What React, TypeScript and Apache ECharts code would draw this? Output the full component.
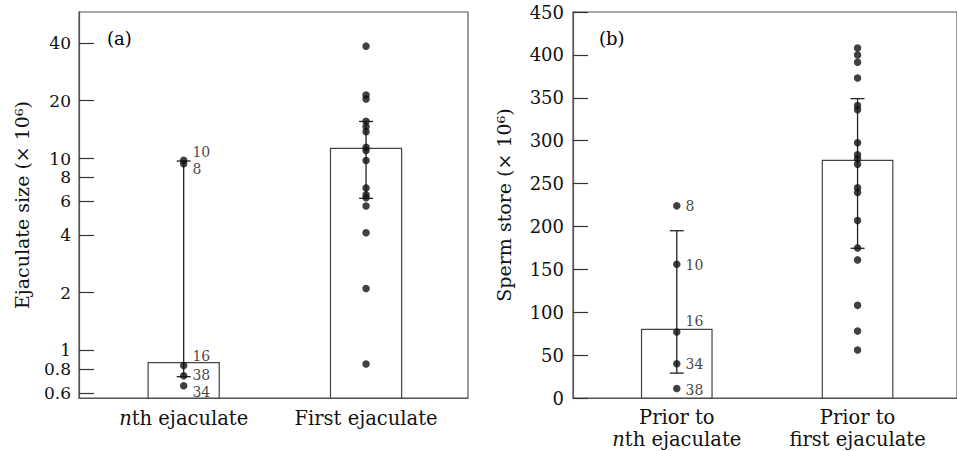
import React, { useEffect, useRef } from "react";
import * as echarts from "echarts";

// ---------- data ----------
const leftCategories = ["{i|n}{t|th ejaculate}", "{t|First ejaculate}"];
const rightCategories = ["{t|Prior to}\n{i|n}{t|th ejaculate}", "{t|Prior to}\n{t|first ejaculate}"];

// Panel (a): ejaculate size (x 10^6), log scale
const leftTicks = [0.6, 0.8, 1, 2, 4, 6, 8, 10, 20, 40];
const leftMeans = [0.863, 11.3];
const leftErrLow = [0.73, 6.2];
const leftErrHigh = [9.7, 15.6];
const leftNthIds = ["10", "8", "16", "38", "34"];
const leftNthValues = [9.8, 9.4, 0.835, 0.738, 0.654];
const leftFirstValues = [38.5, 21.4, 20.4, 15.65, 14.7, 13.8, 11.45, 11.0, 9.76, 7.03, 6.47, 6.24, 5.66, 4.1, 2.1, 0.85];

// Panel (b): sperm store (x 10^6)
const rightMeans = [80, 277];
const rightErrLow = [29, 174.5];
const rightErrHigh = [195, 349];
const rightNthIds = ["8", "10", "16", "34", "38"];
const rightNthValues = [224, 156, 77, 40, 11];
const rightFirstValues = [408, 400, 391.5, 373, 341, 336, 297.5, 283.5, 278.5, 272.5, 245, 239.5, 207, 175, 161, 108, 78, 56];

// ---------- styles ----------
const FONT = "DejaVu Serif";
const TEXT = "#111";
const LINE = "#555";
const DOT = "#111";
const BAR_W = 0.39;
const CAP = 14;

const LEFT_MIN = 0.565;
const LEFT_MAX = 58;
const lg = (v: number) => Math.log10(v);

const leftLabelOffset: Record<string, number> = { "10": -8, "8": 5, "16": -9, "38": -1, "34": 6 };
const rightLabelOffset: Record<string, number> = { "8": 0, "10": 1, "16": -11, "34": 0, "38": 1 };

const rt = (size: number, extra: any = {}) => ({ fontFamily: FONT, fontSize: size, color: TEXT, ...extra });

function barRender(baseValue: number) {
  return (params: any, api: any) => {
    const x = api.value(0);
    const y = api.value(1);
    const top = api.coord([x, y]);
    const base = api.coord([x, baseValue]);
    const w = api.size([BAR_W, 0])[0];
    return {
      type: "rect",
      shape: { x: top[0] - w / 2, y: top[1], width: w, height: base[1] - top[1] },
      style: { fill: "#fff", stroke: "#444", lineWidth: 1.2 },
    };
  };
}

function errRender(params: any, api: any) {
  const x = api.value(0);
  const lo = api.coord([x, api.value(1)]);
  const hi = api.coord([x, api.value(2)]);
  const st = { stroke: "#222", lineWidth: 1.3 };
  return {
    type: "group",
    children: [
      { type: "line", shape: { x1: lo[0], y1: lo[1], x2: hi[0], y2: hi[1] }, style: st },
      { type: "line", shape: { x1: lo[0] - CAP / 2, y1: lo[1], x2: lo[0] + CAP / 2, y2: lo[1] }, style: st },
      { type: "line", shape: { x1: hi[0] - CAP / 2, y1: hi[1], x2: hi[0] + CAP / 2, y2: hi[1] }, style: st },
    ],
  };
}

const catRich = {
  i: rt(19.5, { fontStyle: "italic", lineHeight: 22 }),
  t: rt(19.5, { lineHeight: 22 }),
};

export default function App() {
  const ref = useRef<HTMLDivElement>(null);
  useEffect(() => {
    if (!ref.current) return;
    const chart = echarts.init(ref.current, null, { renderer: "svg" });

    const pointLabel = (id: string, dy: number) => ({
      show: true,
      position: "right",
      distance: 5,
      offset: [0, dy],
      formatter: `{t|${id}}`,
      rich: { t: rt(14, { lineHeight: 12 }) },
    });

    const option: any = {
      animation: false,
      backgroundColor: "#fff",
      textStyle: { fontFamily: FONT, color: TEXT },
      grid: [
        { left: 79, top: 12, width: 389, height: 386, show: true, borderColor: LINE, borderWidth: 1.2, backgroundColor: "transparent" },
        { left: 573, top: 12, width: 386, height: 386, show: true, borderColor: LINE, borderWidth: 1.2, backgroundColor: "transparent" },
      ],
      xAxis: [
        {
          type: "value",
          gridIndex: 0,
          min: -0.574,
          max: 1.559,
          splitLine: { show: false },
          axisTick: { show: false },
          axisLine: { show: true, onZero: false, lineStyle: { color: LINE, width: 1.2 } },
          axisLabel: {
            customValues: [0, 1],
            formatter: (v: number) => leftCategories[Math.round(v)],
            margin: 9,
            rich: catRich,
          },
        },
        {
          type: "value",
          gridIndex: 1,
          min: -0.574,
          max: 1.55,
          splitLine: { show: false },
          axisTick: { show: false },
          axisLine: { show: true, onZero: false, lineStyle: { color: LINE, width: 1.2 } },
          axisLabel: {
            customValues: [0, 1],
            formatter: (v: number) => rightCategories[Math.round(v)],
            margin: 8,
            rich: catRich,
          },
        },
      ],
      yAxis: [
        {
          type: "value",
          gridIndex: 0,
          min: lg(LEFT_MIN),
          max: lg(LEFT_MAX),
          splitLine: { show: false },
          axisLine: { show: true, onZero: false, lineStyle: { color: LINE, width: 1.2 } },
          axisTick: { show: true, inside: true, length: 15, customValues: leftTicks.map(lg), lineStyle: { color: "#333", width: 1.2 } },
          axisLabel: {
            customValues: leftTicks.map(lg),
            formatter: (v: number) => `{t|${Number(Math.pow(10, v).toPrecision(2))}}`,
            margin: 8,
            rich: { t: rt(17, { lineHeight: 15 }) },
          },
          name: "{t|Ejaculate size (× 10⁶)}",
          nameLocation: "middle",
          nameGap: 48,
          nameTextStyle: { rich: { t: rt(19) } },
        },
        {
          type: "value",
          gridIndex: 1,
          min: 0,
          max: 450,
          interval: 50,
          splitLine: { show: false },
          axisLine: { show: true, onZero: false, lineStyle: { color: LINE, width: 1.2 } },
          axisTick: { show: true, inside: true, length: 15, lineStyle: { color: "#333", width: 1.2 } },
          axisLabel: { formatter: (v: number) => `{t|${v}}`, margin: 9, rich: { t: rt(18) } },
          name: "{t|Sperm store (× 10⁶)}",
          nameLocation: "middle",
          nameGap: 60,
          nameTextStyle: { rich: { t: rt(19) } },
        },
      ],
      graphic: [
        { type: "text", x: 107, y: 38, style: { text: "{t|(a)}", rich: { t: rt(18) }, verticalAlign: "middle" } },
        { type: "text", x: 599, y: 38, style: { text: "{t|(b)}", rich: { t: rt(18) }, verticalAlign: "middle" } },
      ],
      series: [
        // panel (a)
        {
          type: "custom",
          xAxisIndex: 0,
          yAxisIndex: 0,
          z: 1,
          renderItem: barRender(lg(LEFT_MIN)),
          data: leftMeans.map((m, i) => [i, lg(m)]),
        },
        {
          type: "custom",
          xAxisIndex: 0,
          yAxisIndex: 0,
          z: 2,
          renderItem: errRender,
          data: leftErrLow.map((lo, i) => [i, lg(lo), lg(leftErrHigh[i])]),
        },
        {
          type: "scatter",
          xAxisIndex: 0,
          yAxisIndex: 0,
          z: 3,
          symbolSize: 7.5,
          itemStyle: { color: DOT },
          data: leftNthValues.map((v, i) => ({
            value: [0, lg(v)],
            label: pointLabel(leftNthIds[i], leftLabelOffset[leftNthIds[i]]),
          })),
        },
        {
          type: "scatter",
          xAxisIndex: 0,
          yAxisIndex: 0,
          z: 3,
          symbolSize: 7.5,
          itemStyle: { color: DOT },
          data: leftFirstValues.map((v) => [1, lg(v)]),
        },
        // panel (b)
        {
          type: "custom",
          xAxisIndex: 1,
          yAxisIndex: 1,
          z: 1,
          renderItem: barRender(0),
          data: rightMeans.map((m, i) => [i, m]),
        },
        {
          type: "custom",
          xAxisIndex: 1,
          yAxisIndex: 1,
          z: 2,
          renderItem: errRender,
          data: rightErrLow.map((lo, i) => [i, lo, rightErrHigh[i]]),
        },
        {
          type: "scatter",
          xAxisIndex: 1,
          yAxisIndex: 1,
          z: 3,
          symbolSize: 7.5,
          itemStyle: { color: DOT },
          data: rightNthValues.map((v, i) => ({
            value: [0, v],
            label: pointLabel(rightNthIds[i], rightLabelOffset[rightNthIds[i]]),
          })),
        },
        {
          type: "scatter",
          xAxisIndex: 1,
          yAxisIndex: 1,
          z: 3,
          symbolSize: 7.5,
          itemStyle: { color: DOT },
          data: rightFirstValues.map((v) => [1, v]),
        },
      ],
    };
    chart.setOption(option);
    return () => chart.dispose();
  }, []);
  return <div ref={ref} style={{ position: "absolute", left: 0, top: 0, width: 957, height: 451 }} />;
}
